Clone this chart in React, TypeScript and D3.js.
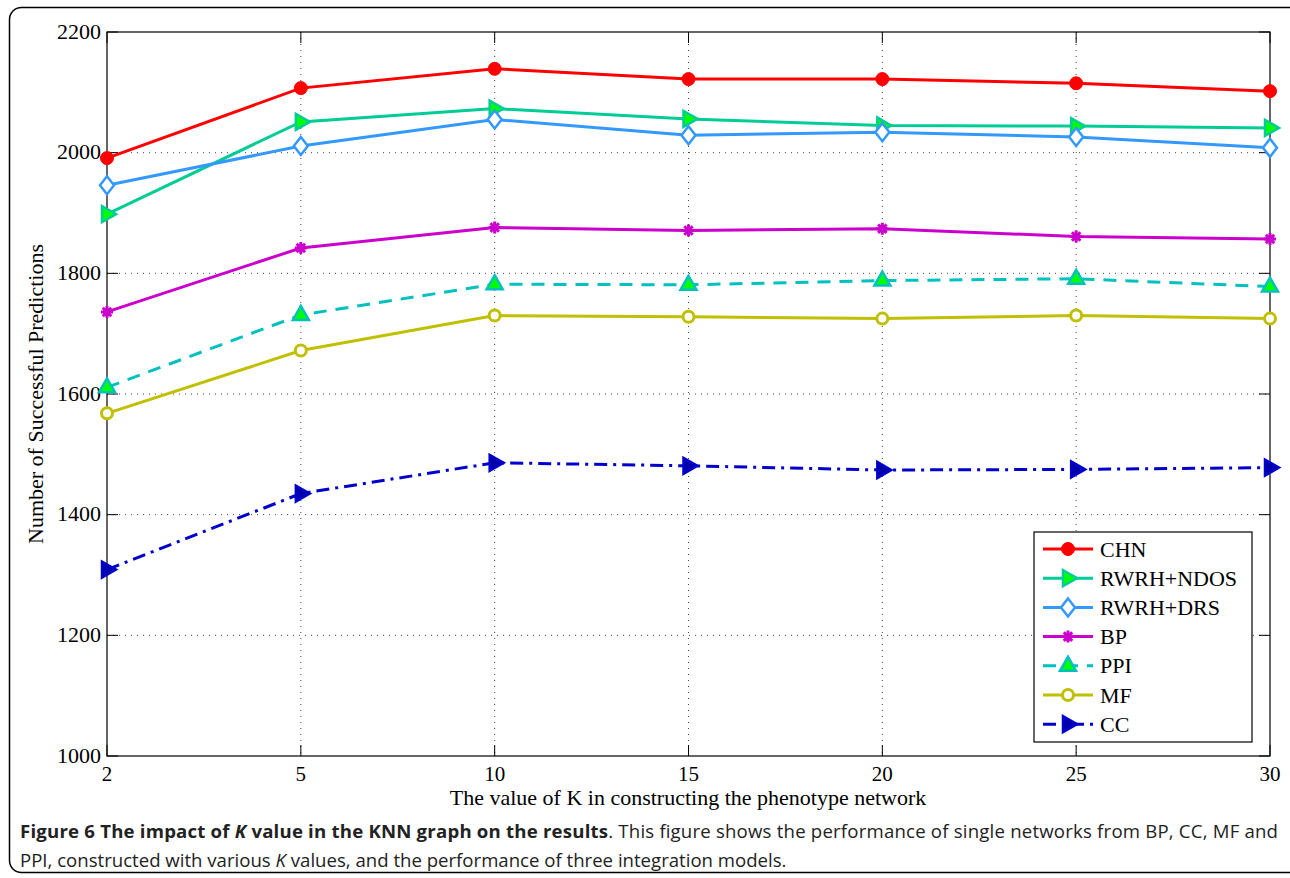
import React from "react";
import * as d3 from "d3";

const kValues = ["2", "5", "10", "15", "20", "25", "30"];
const yTicks = [1000, 1200, 1400, 1600, 1800, 2000, 2200];

const chn = [1991, 2107, 2139, 2122, 2122, 2115, 2102];
const rwrhNdos = [1898, 2051, 2073, 2056, 2045, 2044, 2041];
const rwrhDrs = [1946, 2011, 2055, 2029, 2034, 2026, 2008];
const bp = [1736, 1842, 1876, 1871, 1874, 1861, 1857];
const ppi = [1611, 1731, 1782, 1781, 1788, 1791, 1778];
const mf = [1568, 1672, 1730, 1728, 1725, 1730, 1725];
const cc = [1309, 1435, 1486, 1481, 1474, 1475, 1478];

const seriesNames = ["CHN", "RWRH+NDOS", "RWRH+DRS", "BP", "PPI", "MF", "CC"];
const seriesValues = [chn, rwrhNdos, rwrhDrs, bp, ppi, mf, cc];

type Style = { color: string; dash?: string; marker: string; face: string };
const styles: Style[] = [
  { color: "#ff0000", marker: "circle", face: "#ff0000" },
  { color: "#00cc96", marker: "triRight", face: "#00ff00" },
  { color: "#3399ff", marker: "diamond", face: "#ffffff" },
  { color: "#cc00cc", marker: "asterisk", face: "#cc00cc" },
  { color: "#00c0c0", dash: "13,9", marker: "triUp", face: "#00ff00" },
  { color: "#c0c000", marker: "openCircle", face: "#ffffff" },
  { color: "#0000cc", dash: "13,6,3,6", marker: "triRight", face: "#0000aa" },
];

const L = 107, R = 1270, T = 32, B = 756;
const serif = "'Liberation Serif', 'Times New Roman', serif";

function Marker({ x, y, s }: { x: number; y: number; s: Style }) {
  const c = s.color;
  switch (s.marker) {
    case "circle":
      return <circle cx={x} cy={y} r={6.5} fill={c} stroke={c} strokeWidth={1} />;
    case "openCircle":
      return <circle cx={x} cy={y} r={5.5} fill="#fff" stroke={c} strokeWidth={3} />;
    case "diamond":
      return (
        <path d={`M${x},${y - 9}L${x + 7},${y}L${x},${y + 9}L${x - 7},${y}Z`} fill="#fff" stroke={c} strokeWidth={2.5} />
      );
    case "triRight":
      return (
        <path d={`M${x + 9},${y}L${x - 5},${y - 8}L${x - 5},${y + 8}Z`} fill={s.face} stroke={c} strokeWidth={2.5} strokeLinejoin="miter" />
      );
    case "triUp":
      return (
        <path d={`M${x},${y - 9}L${x + 8},${y + 5}L${x - 8},${y + 5}Z`} fill={s.face} stroke={c} strokeWidth={2.5} />
      );
    case "asterisk": {
      const r = 6;
      const lines = [0, 45, 90, 135].map((a) => {
        const rad = (a * Math.PI) / 180;
        return `M${x - r * Math.cos(rad)},${y - r * Math.sin(rad)}L${x + r * Math.cos(rad)},${y + r * Math.sin(rad)}`;
      });
      return (
        <g>
          <path d={lines.join("")} stroke={c} strokeWidth={3} />
          <circle cx={x} cy={y} r={3.5} fill={c} />
        </g>
      );
    }
  }
  return null;
}

export default function App() {
  const x = d3.scalePoint<string>().domain(kValues).range([L, R]).padding(0);
  const y = d3.scaleLinear().domain([1000, 2200]).range([B, T]);
  const line = d3
    .line<number>()
    .x((_, i) => x(kValues[i]) as number)
    .y((d) => y(d));

  const legX = 1034, legY = 532, legW = 218, legH = 210;
  const rowY = (i: number) => 549 + i * 29.2;

  return (
    <svg width={1290} height={878} style={{ position: "absolute", left: 0, top: 0, background: "#fff" }}>
      <rect x={0} y={0} width={1290} height={878} fill="#fff" />
      <rect x={9.5} y={7.5} width={1300} height={865} rx={12} fill="none" stroke="#000" strokeWidth={1.5} />
      {/* grid */}
      <g stroke="#444" strokeWidth={1} strokeDasharray="1,5">
        {yTicks.slice(1, -1).map((t) => (
          <line key={t} x1={L} x2={R} y1={y(t)} y2={y(t)} />
        ))}
        {kValues.slice(1, -1).map((k) => (
          <line key={k} x1={x(k)} x2={x(k)} y1={T} y2={B} />
        ))}
      </g>
      {/* ticks */}
      <g stroke="#000" strokeWidth={1}>
        {yTicks.map((t) => (
          <g key={t}>
            <line x1={L} x2={L + 11} y1={y(t)} y2={y(t)} />
            <line x1={R} x2={R - 11} y1={y(t)} y2={y(t)} />
          </g>
        ))}
        {kValues.map((k) => (
          <g key={k}>
            <line x1={x(k)} x2={x(k)} y1={B} y2={B - 11} />
            <line x1={x(k)} x2={x(k)} y1={T} y2={T + 11} />
          </g>
        ))}
      </g>
      <rect x={L} y={T} width={R - L} height={B - T} fill="none" stroke="#000" strokeWidth={1.2} />
      {/* tick labels */}
      <g fontFamily={serif} fontSize={22} fill="#000">
        {yTicks.map((t) => (
          <text key={t} x={L - 6} y={y(t) - 1} textAnchor="end" dominantBaseline="central">
            {t}
          </text>
        ))}
        {kValues.map((k) => (
          <text key={k} x={x(k) as number} y={781} fontSize={21} textAnchor="middle">
            {k}
          </text>
        ))}
        <text x={688} y={805} textAnchor="middle">
          The value of K in constructing the phenotype network
        </text>
        <text transform={`translate(35,${394}) rotate(-90)`} textAnchor="middle" dominantBaseline="central">
          Number of Successful Predictions
        </text>
      </g>
      {/* series */}
      {seriesValues.map((vals, si) => (
        <g key={si}>
          <path d={line(vals) as string} fill="none" stroke={styles[si].color} strokeWidth={3} strokeDasharray={styles[si].dash} />
          {vals.map((v, i) => (
            <Marker key={i} x={x(kValues[i]) as number} y={y(v)} s={styles[si]} />
          ))}
        </g>
      ))}
      {/* legend */}
      <rect x={legX} y={legY} width={legW} height={legH} fill="#fff" stroke="#000" strokeWidth={1.2} />
      {seriesNames.map((n, i) => (
        <g key={n}>
          <line x1={1043} x2={1093} y1={rowY(i)} y2={rowY(i)} stroke={styles[i].color} strokeWidth={3} strokeDasharray={styles[i].dash} />
          <Marker x={1068} y={rowY(i)} s={styles[i]} />
          <text x={1100} y={rowY(i)} fontFamily={serif} fontSize={22} dominantBaseline="central">
            {n}
          </text>
        </g>
      ))}
      {/* caption */}
      <g fontFamily="'Open Sans', sans-serif" fontSize={18.6} fill="#222">
        <text x={20} y={838} textLength={1258} lengthAdjust="spacing">
          <tspan fontWeight="bold">Figure 6 The impact of </tspan>
          <tspan fontWeight="bold" fontStyle="italic">K</tspan>
          <tspan fontWeight="bold"> value in the KNN graph on the results</tspan>
          <tspan>. This figure shows the performance of single networks from BP, CC, MF and</tspan>
        </text>
        <text x={20} y={867}>
          <tspan>PPI, constructed with various </tspan>
          <tspan fontStyle="italic">K</tspan>
          <tspan> values, and the performance of three integration models.</tspan>
        </text>
      </g>
    </svg>
  );
}
